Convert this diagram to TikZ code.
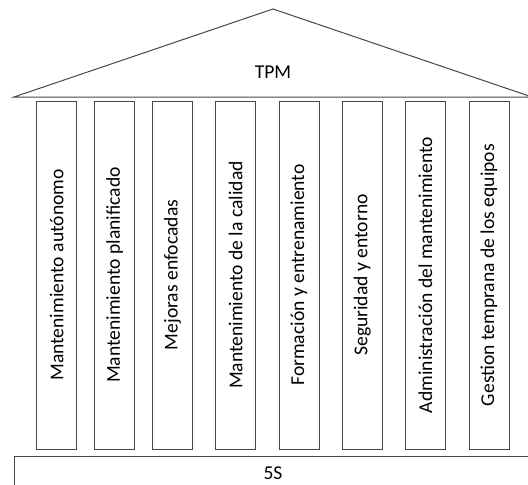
\documentclass[tikz,border=0pt]{standalone}
\usepackage{fontspec}
\setmainfont{Carlito}
\begin{document}
\begin{tikzpicture}[x=1pt,y=-1pt,
  outline/.style={draw=black!72, line width=1pt},
  pillar/.style={outline, rotate=90, minimum width=348pt, minimum height=40pt,
    inner sep=0pt, font=\fontsize{19.6}{22}\selectfont},
  label/.style={font=\fontsize{19.6}{22}\selectfont, inner sep=0pt}]
  \useasboundingbox (0,0) rectangle (528,485);
  \clip (0,0) rectangle (528,485);
  % roof
  \coordinate (roofL) at (14,97);
  \coordinate (apex) at (273,9);
  \coordinate (roofR) at (532,97);
  \draw[outline, line join=miter] (roofL) -- (apex) -- (roofR) -- cycle;
  \node[label] (tpm) at (273,72) {TPM};
  % pillars
  \node[pillar] (p1) at (56.7,275) {Mantenimiento autónomo};
  \node[pillar] (p2) at (114.7,275) {Mantenimiento planificado};
  \node[pillar] (p3) at (172.5,275) {Mejoras enfocadas};
  \node[pillar] (p4) at (235.7,275) {Mantenimiento de la calidad};
  \node[pillar] (p5) at (299,275) {Formación y entrenamiento};
  \node[pillar] (p6) at (362.3,275) {Seguridad y entorno};
  \node[pillar] (p7) at (425.3,275) {Administración del mantenimiento};
  \node[pillar] (p8) at (489,275) {Gestion temprana de los equipos};
  % foundation
  \draw[outline] (14.3,500) -- (14.3,456) -- (540,456);
  \node[label] (fives) at (273,473) {5S};
\end{tikzpicture}
\end{document}
